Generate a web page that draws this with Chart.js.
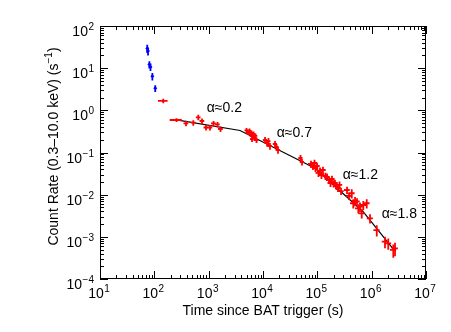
<!DOCTYPE html>
<html><head><meta charset="utf-8">
<script src="https://cdn.jsdelivr.net/npm/chart.js@4/dist/chart.umd.min.js"></script>
<style>html,body{margin:0;padding:0;background:#fff}canvas{display:block}</style>
</head><body>
<canvas id="c" width="451" height="332" style="width:451px;height:332px"></canvas>
<script>
// ---- data ----
const blueTime = [74, 76.5, 81, 85, 92, 104];
const blueRate = [29.3, 25.5, 12.2, 10.7, 6.4, 3.33];
const blueTimeErr = [0.03, 0.03, 0.03, 0.03, 0.03, 0.03];
const blueRateErr = [0.22, 0.22, 0.2, 0.2, 0.2, 0.18];

const redTime = [146, 256, 383, 521, 644, 754, 893, 1058, 1228, 1455, 1652,
  4966, 5296, 5650, 5890, 6150, 6410, 6690, 6980, 7280, 7600, 6280,
  10900, 11900, 12600, 13450, 16630, 17740, 18900, 49000, 52200,
  76500, 83200, 88700, 92500, 98600, 105000, 112000, 119000,
  151000, 164000, 175000, 186000, 211000, 225000, 240000, 256000, 273000,
  430000, 459000, 494000, 568000, 610000, 702000, 656000, 811000, 933000,
  1240000, 1760000, 2020000, 2500000, 2690000,
  127000, 141000, 199000, 352000, 383000, 537000];
const redRate = [1.67, 0.59, 0.493, 0.509, 0.684, 0.558, 0.392, 0.392, 0.488, 0.462, 0.361,
  0.333, 0.306, 0.324, 0.275, 0.290, 0.247, 0.275, 0.221, 0.247, 0.198, 0.209,
  0.198, 0.168, 0.187, 0.1425, 0.159, 0.135, 0.1146, 0.0741, 0.0596,
  0.0534, 0.0479, 0.0564, 0.0429, 0.0479, 0.0327, 0.0365, 0.0293,
  0.0263, 0.0223, 0.0189, 0.0235, 0.0189, 0.0161, 0.0144, 0.0170, 0.0122,
  0.0108, 0.00625, 0.00709, 0.00475, 0.00519, 0.00569, 0.00361, 0.00625, 0.00275,
  0.00145, 0.00077, 0.000703, 0.000488, 0.000535,
  0.0385, 0.0277, 0.0184, 0.0129, 0.0093, 0.00689];
const redTimeErr = [0.2, 0.25, 0.1, 0.1, 0.1, 0.1, 0.1, 0.1, 0.1, 0.1, 0.1,
  0.08, 0.08, 0.08, 0.08, 0.08, 0.08, 0.08, 0.08, 0.08, 0.08, 0.08,
  0.09, 0.09, 0.09, 0.09, 0.09, 0.09, 0.09, 0.09, 0.09,
  0.12, 0.12, 0.12, 0.12, 0.12, 0.12, 0.12, 0.12,
  0.12, 0.12, 0.12, 0.12, 0.12, 0.12, 0.12, 0.12, 0.12,
  0.13, 0.13, 0.13, 0.13, 0.13, 0.13, 0.13, 0.13, 0.13,
  0.13, 0.13, 0.13, 0.13, 0.13,
  0.12, 0.12, 0.12, 0.12, 0.12, 0.12];
const redRateErr = [0.12, 0.1, 0.15, 0.15, 0.15, 0.15, 0.15, 0.15, 0.15, 0.15, 0.15,
  0.15, 0.15, 0.15, 0.15, 0.15, 0.15, 0.15, 0.15, 0.15, 0.15, 0.15,
  0.18, 0.18, 0.18, 0.18, 0.18, 0.18, 0.18, 0.18, 0.18,
  0.2, 0.2, 0.2, 0.2, 0.2, 0.2, 0.2, 0.2,
  0.2, 0.2, 0.2, 0.2, 0.2, 0.2, 0.2, 0.2, 0.2,
  0.25, 0.25, 0.25, 0.25, 0.25, 0.25, 0.25, 0.25, 0.25,
  0.3, 0.3, 0.3, 0.35, 0.35,
  0.2, 0.2, 0.2, 0.2, 0.2, 0.2];

const fitTime = [240, 3780, 90600, 690000, 2440000];
const fitRate = [0.60, 0.333, 0.0423, 0.00399, 0.000535];

const alphaText = ['α≈0.2', 'α≈0.7', 'α≈1.2', 'α≈1.8'];
const alphaTime = [920, 17900, 293000, 1530000];
const alphaRate = [1.155, 0.295, 0.0293, 0.00348];

const xTickExp = [1, 2, 3, 4, 5, 6, 7];
const yTickExp = [-4, -3, -2, -1, 0, 1, 2];
const xTitle = 'Time since BAT trigger (s)';
const yTitleMain = 'Count Rate (0.3–10.0 keV) (s';
const yTitleSup = '−1';
const yTitleEnd = ')';

// ---- build chart ----
const pts = (ts, rs) => ts.map((t, i) => ({x: t, y: rs[i]}));
const FONT = '"Liberation Sans", Arial, Helvetica, sans-serif';

function supText(n) { return n < 0 ? '−' + Math.abs(n) : String(n); }

const drawPlugin = {
  id: 'idlAxes',
  afterDatasetsDraw(chart) {
    const {ctx, chartArea: a, scales: {x, y}} = chart;
    ctx.save();
    // error-bar crosses
    chart.data.datasets.forEach(ds => {
      if (!ds.errT) return;
      ctx.strokeStyle = ds.borderColor;
      ctx.lineWidth = 1.8;
      ds.data.forEach((p, j) => {
        const px = x.getPixelForValue(p.x), py = y.getPixelForValue(p.y);
        const tl = x.getPixelForValue(p.x * (1 - ds.errT[j])), th = x.getPixelForValue(p.x * (1 + ds.errT[j]));
        const rl = y.getPixelForValue(p.y * (1 - ds.errR[j])), rh = y.getPixelForValue(p.y * (1 + ds.errR[j]));
        ctx.beginPath();
        ctx.moveTo(tl, py); ctx.lineTo(th, py);
        ctx.moveTo(px, rl); ctx.lineTo(px, rh);
        ctx.stroke();
      });
    });
    // frame
    ctx.strokeStyle = '#000';
    ctx.lineWidth = 1;
    ctx.strokeRect(a.left + 0.5, a.top + 0.5, a.right - a.left - 1, a.bottom - a.top - 1);
    // ticks
    ctx.beginPath();
    for (let k = xTickExp[0]; k <= xTickExp[xTickExp.length - 1]; k++) {
      for (let m = 1; m <= 9; m++) {
        const v = m * Math.pow(10, k);
        if (v > Math.pow(10, xTickExp[xTickExp.length - 1]) * 1.0001) break;
        const px = Math.round(x.getPixelForValue(v)) + 0.5;
        const len = m === 1 ? 8 : 4;
        ctx.moveTo(px, a.bottom); ctx.lineTo(px, a.bottom - len);
        ctx.moveTo(px, a.top); ctx.lineTo(px, a.top + len);
      }
    }
    for (let k = yTickExp[0]; k <= yTickExp[yTickExp.length - 1]; k++) {
      for (let m = 1; m <= 9; m++) {
        const v = m * Math.pow(10, k);
        if (v > Math.pow(10, yTickExp[yTickExp.length - 1]) * 1.0001) break;
        const py = Math.round(y.getPixelForValue(v)) + 0.5;
        const len = m === 1 ? 8 : 4;
        ctx.moveTo(a.left, py); ctx.lineTo(a.left + len, py);
        ctx.moveTo(a.right, py); ctx.lineTo(a.right - len, py);
      }
    }
    ctx.stroke();
    // tick labels
    ctx.fillStyle = '#000';
    ctx.textBaseline = 'alphabetic';
    const baseF = '14px ' + FONT, supF = '10px ' + FONT;
    const drawPow = (e, leftX, baseY) => {
      ctx.font = baseF; ctx.textAlign = 'left';
      ctx.fillText('10', leftX, baseY);
      const wb = ctx.measureText('10').width;
      ctx.font = supF;
      ctx.fillText(supText(e), leftX + wb + 0.5, baseY - 6);
    };
    const powWidth = e => {
      ctx.font = baseF; const wb = ctx.measureText('10').width;
      ctx.font = supF; return wb + 0.5 + ctx.measureText(supText(e)).width;
    };
    xTickExp.forEach(e => {
      const px = x.getPixelForValue(Math.pow(10, e));
      drawPow(e, px - powWidth(e) / 2 - 1, a.bottom + 19);
    });
    yTickExp.forEach(e => {
      const py = y.getPixelForValue(Math.pow(10, e));
      drawPow(e, a.left - 6 - powWidth(e), py + 10);
    });
    // axis titles
    ctx.font = '14px ' + FONT;
    ctx.textAlign = 'center';
    ctx.fillText(xTitle, (a.left + a.right) / 2, a.bottom + 36);
    ctx.save();
    ctx.translate(a.left - 47, (a.top + a.bottom) / 2 - 6);
    ctx.rotate(-Math.PI / 2);
    ctx.font = '14px ' + FONT;
    const w1 = ctx.measureText(yTitleMain).width;
    const w3 = ctx.measureText(yTitleEnd).width;
    ctx.font = '10px ' + FONT;
    const w2 = ctx.measureText(yTitleSup).width;
    let sx = -(w1 + w2 + w3) / 2;
    ctx.textAlign = 'left';
    ctx.font = '14px ' + FONT;
    ctx.fillText(yTitleMain, sx, 5);
    ctx.font = '10px ' + FONT;
    ctx.fillText(yTitleSup, sx + w1, -1);
    ctx.font = '14px ' + FONT;
    ctx.fillText(yTitleEnd, sx + w1 + w2, 5);
    ctx.restore();
    // slope annotations
    ctx.font = '14px ' + FONT;
    ctx.textAlign = 'left';
    ctx.textBaseline = 'middle';
    alphaText.forEach((s, i) => {
      ctx.fillText(s, x.getPixelForValue(alphaTime[i]), y.getPixelForValue(alphaRate[i]));
    });
    ctx.restore();
  }
};

new Chart(document.getElementById('c'), {
  type: 'scatter',
  data: {
    datasets: [
      {label: 'fit', type: 'line', data: pts(fitTime, fitRate), borderColor: '#000', borderWidth: 1.2,
       pointRadius: 0, fill: false, tension: 0, order: 3},
      {label: 'BAT', data: pts(blueTime, blueRate), borderColor: '#0000ff', backgroundColor: '#0000ff',
       pointStyle: 'rectRot', pointRadius: 2, borderWidth: 0, errT: blueTimeErr, errR: blueRateErr, order: 1},
      {label: 'XRT', data: pts(redTime, redRate), borderColor: '#ff0000', backgroundColor: '#ff0000',
       pointRadius: 0, errT: redTimeErr, errR: redRateErr, order: 2}
    ]
  },
  options: {
    responsive: false,
    animation: false,
    devicePixelRatio: 1,
    layout: {padding: {left: 100, right: 25, top: 26, bottom: 53}},
    plugins: {legend: {display: false}, tooltip: {enabled: false}},
    scales: {
      x: {type: 'logarithmic', min: 10, max: 1e7, display: false},
      y: {type: 'logarithmic', min: 1e-4, max: 100, display: false}
    }
  },
  plugins: [drawPlugin]
});
</script>
</body></html>
